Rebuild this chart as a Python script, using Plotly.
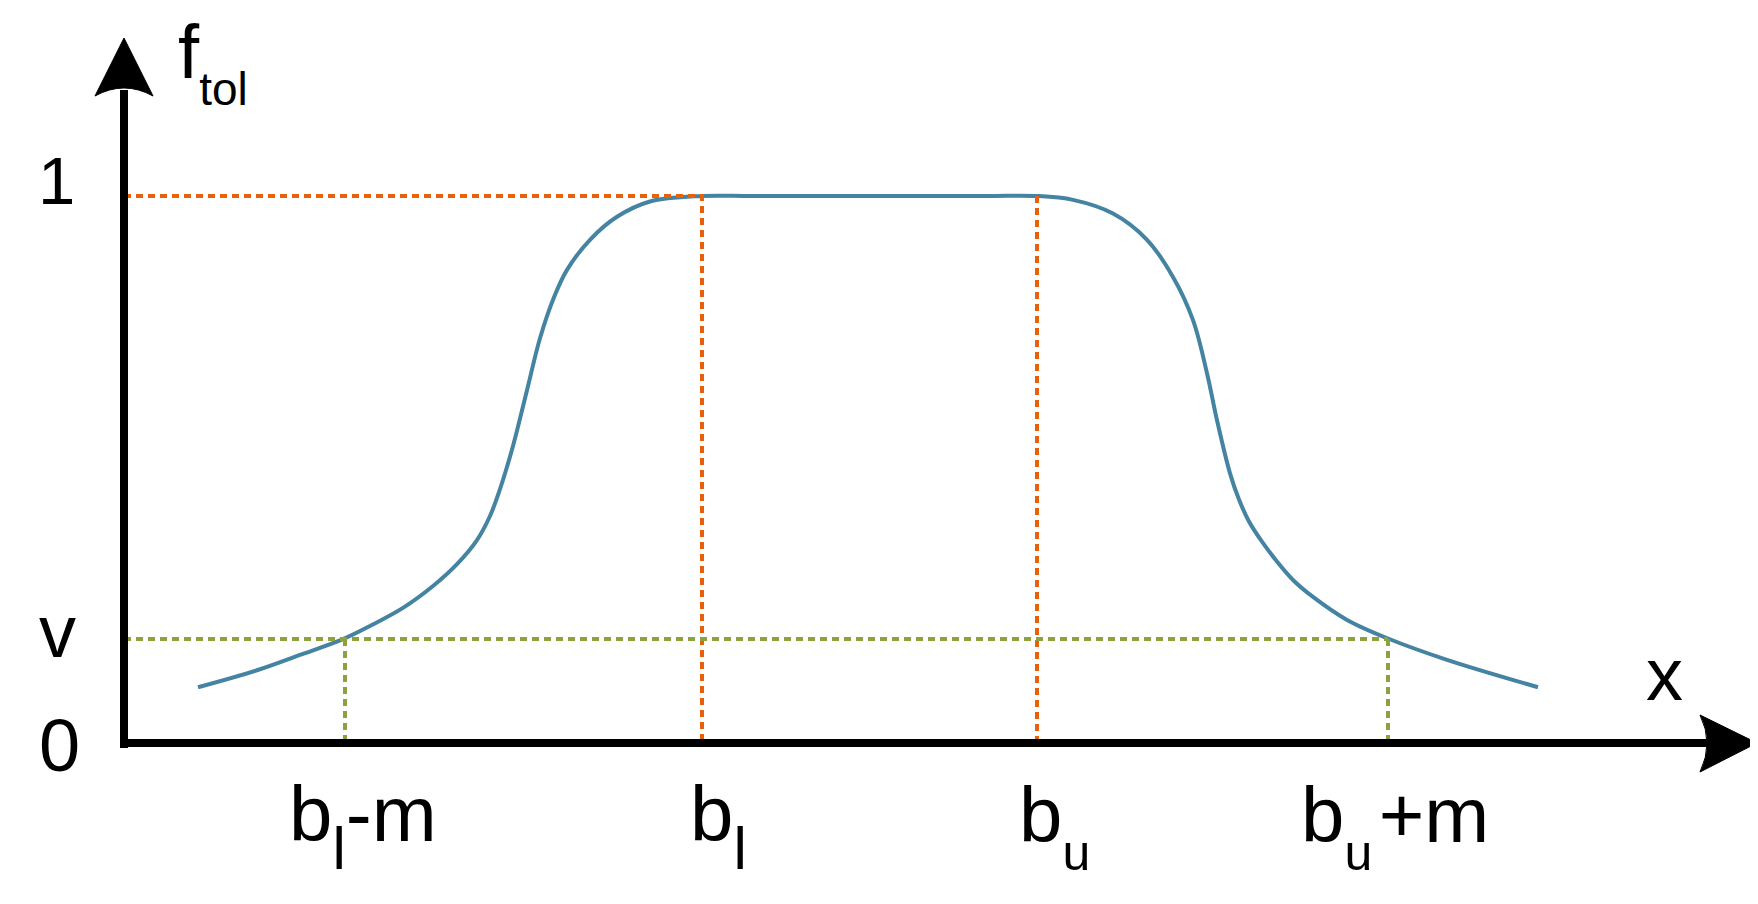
"""
Tolerance function f_tol sketch: plateau between b_l and b_u, soft tails.
"""

import plotly.graph_objects as go

# curve (x in axis units, y in f_tol units)
curve_x = [0.74, 1.33, 1.76, 2.19, 2.46, 2.79, 3.09, 3.33, 3.53, 3.66, 3.76, 3.89,
           4.03, 4.16, 4.30, 4.43, 4.66, 4.93, 5.26, 5.78, 6.3,
           8.6, 9.13, 9.49, 9.89, 10.23, 10.49, 10.69, 10.83, 10.93, 11.06, 11.15,
           11.25, 11.38, 11.52, 11.69, 11.89, 12.23, 12.64, 13.23, 14.14]
curve_y = [0.102, 0.133, 0.161, 0.190, 0.214, 0.247, 0.287, 0.327, 0.371, 0.415,
           0.464, 0.543, 0.645, 0.740, 0.815, 0.865, 0.920, 0.962, 0.990, 1.0, 1.0,
           1.0, 1.0, 0.993, 0.968, 0.920, 0.852, 0.773, 0.676, 0.590, 0.493, 0.445,
           0.405, 0.368, 0.334, 0.298, 0.267, 0.225, 0.191, 0.152, 0.102]

# reference points on the axes
x_ticks = [2.21, 5.78, 9.13, 12.64]
x_tick_labels = [
    'b<sub><sub><span style="font-size:60px">l</span></sub></sub>-m',
    'b<sub><sub><span style="font-size:60px">l</span></sub></sub>',
    'b<sub><sub><span style="font-size:50px">u</span></sub></sub>',
    'b<sub><sub><span style="font-size:50px">u</span></sub></sub>\u200a+m',
]
v_level = 0.19
top_level = 1.0

BLUE = '#4483A2'
ORANGE = '#E8600C'
GREEN = '#8BA33A'
FONT = 'Liberation Sans, Arial, sans-serif'

W, H = 1750, 896
PAGE_OFF = 8                  # body margin of the html page
X0_PX, Y0_PX = 124, 743       # where the axes cross (page pixels)
PX_X, PX_Y = 100.0, 547.0     # pixels per unit


def d(px, py):
    """page pixel position -> data position"""
    return (px - X0_PX) / PX_X, (Y0_PX - py) / PX_Y


def arrow_path(tip, c1, ctrl, c2):
    pts = [d(*p) for p in (tip, c1, ctrl, c2)]
    (tx, ty), (ax, ay), (qx, qy), (bx, by) = pts
    return f'M{tx},{ty} L{ax},{ay} Q{qx},{qy} {bx},{by} Z'


b_lm, b_l, b_u, b_um = x_ticks

fig = go.Figure()

fig.add_trace(go.Scatter(
    x=curve_x, y=curve_y, mode='lines',
    line=dict(color=BLUE, width=4, shape='spline', smoothing=1.0),
    hoverinfo='skip'
))

fig.add_trace(go.Scatter(
    x=[0, b_l, b_l, None, b_u, b_u],
    y=[top_level, top_level, 0, None, top_level, 0],
    mode='lines', line=dict(color=ORANGE, width=4, dash='7px,5px'),
    hoverinfo='skip'
))

fig.add_trace(go.Scatter(
    x=[0, b_um, None, b_lm, b_lm, None, b_um, b_um],
    y=[v_level, v_level, None, v_level, 0, None, v_level, 0],
    mode='lines', line=dict(color=GREEN, width=4, dash='7px,5px'),
    hoverinfo='skip'
))

# axes with arrow heads
ax_x0, ax_y0 = d(124, 748)
ax_x1, ax_y1 = d(124, 90)
fig.add_shape(type='line', x0=ax_x0, y0=ax_y0, x1=ax_x1, y1=ax_y1,
              line=dict(color='black', width=8))
hx0, hy0 = d(120, 743)
hx1, hy1 = d(1708, 743)
fig.add_shape(type='line', x0=hx0, y0=hy0, x1=hx1, y1=hy1,
              line=dict(color='black', width=8))

fig.add_shape(type='path', path=arrow_path((124, 38), (95, 96), (124, 80), (153, 96)),
              fillcolor='black', line=dict(color='black', width=1))
fig.add_shape(type='path', path=arrow_path((1757, 743), (1700, 715), (1714, 743), (1700, 772)),
              fillcolor='black', line=dict(color='black', width=1))

# labels
big = dict(family=FONT, size=74, color='black')
fig.add_annotation(x=d(56, 0)[0], y=top_level, text='1', showarrow=False,
                   font=dict(family=FONT, size=67, color='black'), yshift=16)
fig.add_annotation(x=d(57, 0)[0], y=v_level, text='v', showarrow=False,
                   font=big, yshift=8)
fig.add_annotation(x=d(59, 0)[0], y=0, text='0', showarrow=False,
                   font=big, yshift=-2)
fig.add_annotation(x=d(1664, 0)[0], y=d(0, 682)[1], text='x', showarrow=False,
                   font=big, yshift=8)
fig.add_annotation(x=d(176, 0)[0], y=d(0, 62)[1],
                   text='f<sub><sub><span style="font-size:46px">tol</span></sub></sub>',
                   showarrow=False, xanchor='left', yanchor='middle',
                   font=dict(family=FONT, size=76, color='black'))

label_shift = [18, 16, 17, 7]
for xv, lab, xs in zip(x_ticks, x_tick_labels, label_shift):
    fig.add_annotation(x=xv, y=d(0, 826)[1], text=lab, showarrow=False,
                       font=dict(family=FONT, size=78, color='black'), xshift=xs)

fig.update_layout(
    width=W, height=H,
    margin=dict(l=0, r=0, t=0, b=0),
    paper_bgcolor='white', plot_bgcolor='white',
    showlegend=False,
    xaxis=dict(range=[d(PAGE_OFF, 0)[0], d(PAGE_OFF + W, 0)[0]],
               visible=False, fixedrange=True),
    yaxis=dict(range=[d(0, PAGE_OFF + H)[1], d(0, PAGE_OFF)[1]],
               visible=False, fixedrange=True),
)

fig.write_html("out.html")
